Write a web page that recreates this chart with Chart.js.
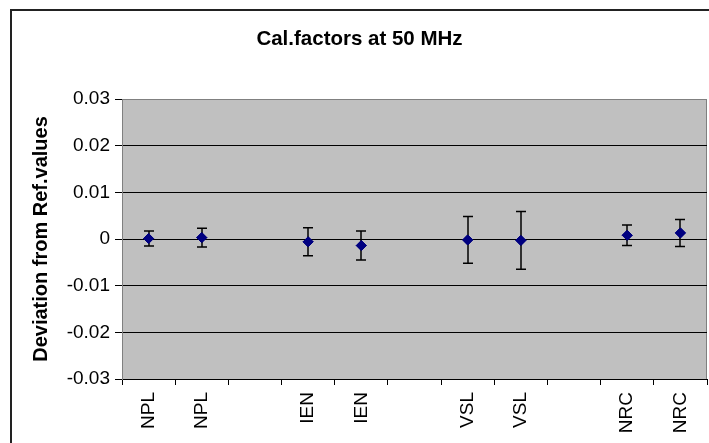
<!DOCTYPE html>
<html>
<head>
<meta charset="utf-8">
<script src="https://cdn.jsdelivr.net/npm/chart.js@4/dist/chart.umd.min.js"></script>
<style>
  html, body { margin: 0; padding: 0; background: #fff; overflow: hidden; }
  #wrap { position: relative; width: 709px; height: 443px; }
  #frame { position: absolute; left: 10px; top: 9px; width: 760px; height: 500px;
           border: 2px solid #222; box-sizing: border-box; pointer-events: none; }
</style>
</head>
<body>
<div id="wrap">
  <canvas id="calChart" width="709" height="443"></canvas>
  <div id="frame"></div>
</div>
<script>
// categorías (huecos entre laboratorios)
const labs = ['NPL', 'NPL', '', 'IEN', 'IEN', '', 'VSL', 'VSL', '', 'NRC', 'NRC'];
// desviación respecto a valores de referencia
const deviation = [0.0001, 0.0003, null, -0.0006, -0.0014, null, -0.0002, -0.0003, null, 0.0008, 0.0013];
// incertidumbre (barra de error simétrica)
const uncertainty = [0.0016, 0.002, null, 0.003, 0.0031, null, 0.005, 0.0062, null, 0.0022, 0.0029];
const yTicks = [-0.03, -0.02, -0.01, 0, 0.01, 0.02, 0.03];

const FONT = 'Arial, "Liberation Sans", sans-serif';

// fondo gris del área de trazado
const plotBg = {
  id: 'plotBg',
  beforeDraw(chart) {
    const { ctx, chartArea: a } = chart;
    ctx.save();
    ctx.fillStyle = '#c0c0c0';
    ctx.fillRect(a.left, a.top, a.right - a.left, a.bottom - a.top);
    ctx.strokeStyle = '#808080';
    ctx.lineWidth = 1;
    ctx.strokeRect(a.left + 0.5, a.top + 0.5, a.right - a.left - 1, a.bottom - a.top);
    ctx.restore();
  }
};

// barras de error con la escala y
const errorBars = {
  id: 'errorBars',
  afterDatasetsDraw(chart) {
    const { ctx, scales: { y } } = chart;
    const meta = chart.getDatasetMeta(0);
    ctx.save();
    ctx.strokeStyle = '#000';
    ctx.lineWidth = 1.5;
    meta.data.forEach((pt, i) => {
      const v = deviation[i], e = uncertainty[i];
      if (v === null || e === null) return;
      const x = Math.round(pt.x);
      const top = y.getPixelForValue(v + e);
      const bot = y.getPixelForValue(v - e);
      ctx.beginPath();
      ctx.moveTo(x, top); ctx.lineTo(x, bot);
      ctx.moveTo(x - 5, top); ctx.lineTo(x + 5, top);
      ctx.moveTo(x - 5, bot); ctx.lineTo(x + 5, bot);
      ctx.stroke();
    });
    ctx.restore();
    // redibujar los puntos encima
    meta.controller.draw();
  }
};

new Chart(document.getElementById('calChart'), {
  type: 'line',
  data: {
    labels: labs,
    datasets: [{
      data: deviation,
      showLine: false,
      pointStyle: 'rectRot',
      pointRadius: 5,
      pointHoverRadius: 5,
      pointBackgroundColor: '#000080',
      pointBorderColor: '#000080',
      borderColor: '#000080'
    }]
  },
  options: {
    responsive: false,
    animation: false,
    events: [],
    layout: { autoPadding: false, padding: { left: 12, right: 2, top: 0, bottom: 0 } },
    plugins: {
      legend: { display: false },
      tooltip: { enabled: false },
      title: {
        display: true,
        text: 'Cal.factors at 50 MHz',
        color: '#000',
        font: { family: FONT, size: 20.5, weight: 'bold', lineHeight: 1.2 },
        padding: { top: 27, bottom: 47.4 }
      }
    },
    scales: {
      x: {
        type: 'category',
        offset: true,
        afterFit(s) { s.height = 64; s.paddingLeft = 0; s.paddingRight = 0; },
        grid: {
          offset: true,
          drawOnChartArea: false,
          drawTicks: true,
          tickLength: 6,
          color: '#000'
        },
        border: { color: '#000', width: 1 },
        ticks: {
          autoSkip: false,
          maxRotation: 90,
          minRotation: 90,
          padding: 7,
          color: '#000',
          font: { family: FONT, size: 19 }
        }
      },
      y: {
        min: -0.03,
        max: 0.03,
        afterFit(s) { s.width = 110; },
        afterBuildTicks(s) { s.ticks = yTicks.map(v => ({ value: v })); },
        grid: {
          color: ctx => (ctx.tick && ctx.tick.value === 0.03 ? '#808080' : '#000'),
          tickColor: '#000',
          tickLength: 7,
          lineWidth: 1
        },
        border: { color: '#808080', width: 1 },
        ticks: {
          padding: 5,
          color: '#000',
          font: { family: FONT, size: 19 },
          callback: v => String(Math.round(v * 100) / 100)
        },
        title: {
          display: true,
          text: 'Deviation from Ref.values',
          color: '#000',
          font: { family: FONT, size: 20, weight: 'bold' },
          padding: { top: 17, bottom: 0 }
        }
      }
    }
  },
  plugins: [plotBg, errorBars]
});
</script>
</body>
</html>
